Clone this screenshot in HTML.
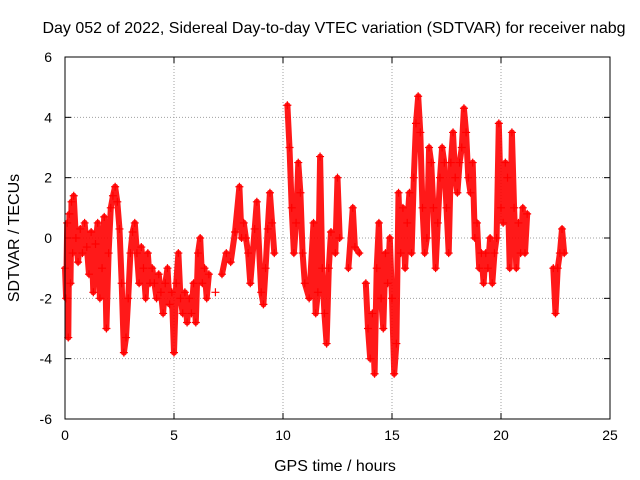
<!DOCTYPE html>
<html><head><meta charset="utf-8"><style>
body{margin:0;background:#fff;}
svg{display:block;font-family:"Liberation Sans",sans-serif;}
</style></head><body>
<svg id="chart" width="640" height="480" viewBox="0 0 640 480">
<text x="334" y="33" font-size="16" text-anchor="middle">Day 052 of 2022, Sidereal Day-to-day VTEC variation (SDTVAR) for receiver nabg</text>
<text transform="translate(19,238) rotate(-90)" font-size="16" text-anchor="middle">SDTVAR / TECUs</text>
<text x="335" y="471" font-size="16" text-anchor="middle">GPS time / hours</text>
<g id="grid"></g>
<g id="ticks"></g>
<g id="marks"></g>
<rect x="65" y="57" width="545" height="362" fill="none" stroke="#000" stroke-width="1"/>
</svg>
<script>
const xTicks=[0,5,10,15,20,25];
const yTicks=[-6,-4,-2,0,2,4,6];
const times=[0,0.05,0.1,0.15,0.2,0.25,0.3,0.35,0.4,0.5,0.6,0.7,0.8,0.9,1.0,1.1,1.2,1.3,1.4,1.5,1.6,1.7,1.8,1.9,2.0,2.1,2.2,2.3,2.4,2.5,2.6,2.7,2.8,2.9,3.0,3.1,3.2,3.3,3.4,3.5,3.6,3.7,3.8,3.9,4.0,4.1,4.2,4.3,4.4,4.5,4.6,4.7,4.8,4.9,5.0,5.1,5.2,5.3,5.4,5.5,5.6,5.7,5.8,5.9,6.0,6.1,6.2,6.3,6.4,6.5,6.6,null,6.9,null,7.2,7.4,7.6,7.8,8.0,8.1,8.2,8.3,8.4,8.5,8.7,8.8,9.0,9.1,9.2,9.3,9.4,9.5,9.6,null,10.2,10.3,10.4,10.5,10.6,10.7,10.8,10.9,11.0,11.2,11.4,11.5,11.6,11.7,11.8,11.9,12.0,12.1,12.2,12.4,12.5,12.6,null,13.0,13.2,13.3,13.5,null,13.8,13.9,14.0,14.1,14.2,14.3,14.4,14.5,14.6,14.7,14.8,14.9,15.0,15.1,15.2,15.3,15.4,15.5,15.6,15.7,15.8,15.9,16.0,16.1,16.2,16.3,16.4,16.5,16.6,16.7,16.8,16.9,17.0,17.1,17.2,17.3,17.4,17.5,17.6,17.7,17.8,17.9,18.0,18.1,18.2,18.3,18.4,18.5,18.6,18.7,18.8,18.9,19.0,19.1,19.2,19.3,19.4,19.5,19.6,19.7,19.8,19.9,20.0,20.1,20.2,20.3,20.4,20.5,20.6,20.7,20.8,20.9,21.0,21.1,21.2,null,22.4,22.5,22.6,22.7,22.8,22.9];
const values=[-1,-2,0.5,-3.3,0.8,-1.5,1.2,-0.5,1.4,0,-0.8,0.3,-0.5,0.5,-0.3,-1.2,0.2,-1.8,-0.2,0.5,-2,-1,0.7,-3,-0.5,1,1.4,1.7,1.2,0.3,-1.5,-3.8,-3.3,-2,-0.5,0.2,0.5,-0.5,-1.5,-0.3,-1,-2,-0.5,-1.5,-1,-1.5,-2,-1.2,-1.8,-2.5,-1.5,-1,-2.2,-1.8,-3.8,-1.5,-0.5,-2,-2.5,-1.8,-2.8,-2,-2.5,-1.5,-2.8,-0.5,0,-1.5,-1,-2,-1.2,null,-1.8,null,-1.2,-0.5,-0.8,0.2,1.7,0,0.5,0,-0.5,-1.5,0.3,1.2,-1.8,-2.2,-1,0.3,1.5,0.5,-0.5,null,4.4,3,1,-0.5,0.5,2.5,1.5,-0.5,-1.5,-2,0.5,-2.5,-1.8,2.7,-1,-2.5,-3.5,-1,0.2,-0.5,2,0,null,-1,1,-0.3,-0.5,null,-1.5,-3,-4,-2.5,-4.5,-1,0.5,-2,-3,-0.5,-1.5,0,-2,-4.5,-3.5,1.5,-0.5,1,-1,0.5,1.5,-0.5,2,3.8,4.7,3.5,1,-0.5,0,3,2.5,1,-1,0.5,2,3,2.5,1,-0.5,2.5,3.5,2,1.5,2.5,3,4.3,3.5,2,1.5,2.5,0,0.5,-1,-0.5,-1.5,-0.5,-1,0,-1.5,-0.5,0,3.8,1,0.5,2.5,2,-1,3.5,1,-1,0.5,-0.5,1,-0.5,0.8,null,-1,-2.5,-1,-0.5,0.3,-0.5];
const L=65,R=610,T=57,B=419;
const xs=v=>L+(v-0)/(25-0)*(R-L);
const ys=v=>B-(v+6)/12*(B-T);
const NS="http://www.w3.org/2000/svg";
const grid=document.getElementById('grid'),ticks=document.getElementById('ticks'),marks=document.getElementById('marks');
function mk(tag,at,parent){const e=document.createElementNS(NS,tag);for(const k in at)e.setAttribute(k,at[k]);parent.appendChild(e);return e;}
xTicks.forEach(t=>{const x=xs(t);
 if(t>0&&t<25){const g=mk('line',{x1:x,x2:x,y1:T,y2:B,stroke:'#a0a0a0','stroke-dasharray':'1,2'},grid);
 
 }
 const tk=mk('text',{x:x,y:B+21,'font-size':14,'text-anchor':'middle'},ticks);tk.textContent=t;
 
 
 mk('line',{x1:x,x2:x,y1:B,y2:B-6,stroke:'#000'},ticks);mk('line',{x1:x,x2:x,y1:T,y2:T+6,stroke:'#000'},ticks);});
yTicks.forEach(t=>{const y=ys(t);
 if(t>-6&&t<6){const g=mk('line',{x1:L,x2:R,y1:y,y2:y,stroke:'#a0a0a0','stroke-dasharray':'1,2'},grid);
 
 }
 const tk=mk('text',{x:L-13,y:y+5,'font-size':14,'text-anchor':'end'},ticks);tk.textContent=t;
 
 
 mk('line',{x1:L,x2:L+6,y1:y,y2:y,stroke:'#000'},ticks);mk('line',{x1:R,x2:R-6,y1:y,y2:y,stroke:'#000'},ticks);});
let d='',pen=false;
times.forEach((t,i)=>{if(t===null||values[i]===null){pen=false;return;}d+=(pen?'L':'M')+xs(t).toFixed(1)+','+ys(values[i]).toFixed(1);pen=true;});
const tr=mk('path',{d:d,fill:'none',stroke:'#ff0000','stroke-width':6,'stroke-linejoin':'round','stroke-linecap':'round','stroke-opacity':0.9},marks);


times.forEach((t,i)=>{if(t===null||values[i]===null)return;const x=xs(t),y=ys(values[i]);
 const p=mk('path',{d:`M${x-4},${y}h8M${x},${y-4}v8`,stroke:'#ff0000','stroke-width':1.2},marks);
 
 });
</script>
</body></html>
